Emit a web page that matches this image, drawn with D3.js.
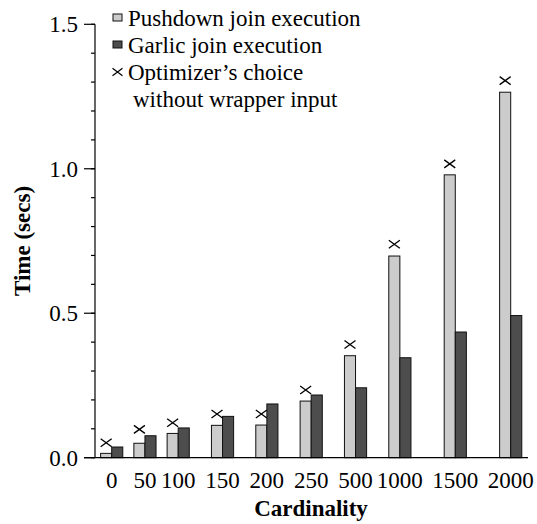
<!DOCTYPE html>
<html>
<head>
<meta charset="utf-8">
<script src="https://cdn.jsdelivr.net/npm/d3@7"></script>
<style>
  html, body { margin: 0; padding: 0; background: #fff; }
  svg { display: block; }
</style>
</head>
<body>
<svg id="chart" width="537" height="524"></svg>
<script>
// ---- data ----
const categories = ["0", "50", "100", "150", "200", "250", "500", "1000", "1500", "2000"];
const pushdown   = [0.015, 0.050, 0.084, 0.112, 0.113, 0.196, 0.353, 0.698, 0.979, 1.265];
const garlic     = [0.037, 0.076, 0.103, 0.143, 0.186, 0.217, 0.242, 0.346, 0.435, 0.492];
const optimizer  = [0.052, 0.098, 0.121, 0.151, 0.151, 0.234, 0.392, 0.739, 1.017, 1.305];
const yTicksMajor = [0, 0.5, 1.0, 1.5];
const legendLabels = ["Pushdown join execution", "Garlic join execution", "Optimizer\u2019s choice", "without wrapper input"];

// ---- layout ----
const FONT = "Liberation Serif";
const FS = 23;
const gapUnits = [0, 1, 1, 2, 2, 2, 2, 2, 3, 3]; // empty bar-widths before each group
const slotUnits = [];
gapUnits.reduce((acc, g, i) => { const v = acc + g + (i ? 2 : 0); slotUnits.push(v); return v; }, 0);

const colors = { push: "#cccccc", garlic: "#4d4d4d" };
const svg = d3.select("#chart");

const x = d3.scaleLinear().domain([0, slotUnits[slotUnits.length - 1]]).range([111.7, 510.7]);
const unit = x(1) - x(0);
const y = d3.scaleLinear().domain([0, 1.5]).range([457.7, 24.3]);

// y axis line
svg.append("line").attr("x1", 95).attr("x2", 95).attr("y1", y(1.5)).attr("y2", y(0))
  .attr("stroke", "#000").attr("stroke-width", 1.2);
// minor ticks
svg.append("g").selectAll("line").data(d3.range(0, 16).map(i => i / 10)).join("line")
  .attr("x1", 91).attr("x2", 95).attr("y1", d => y(d)).attr("y2", d => y(d))
  .attr("stroke", "#000").attr("stroke-width", 1.2);
// major ticks
svg.append("g").selectAll("line").data(yTicksMajor).join("line")
  .attr("x1", 84).attr("x2", 95).attr("y1", d => y(d)).attr("y2", d => y(d))
  .attr("stroke", "#000").attr("stroke-width", 1.2);
svg.append("g").selectAll("text").data(yTicksMajor).join("text")
  .attr("x", 78).attr("y", d => y(d)).attr("dy", "0.35em")
  .attr("text-anchor", "end").attr("font-family", FONT).attr("font-size", FS)
  .text(d => d.toFixed(1));

// bars
const groups = svg.append("g").selectAll("g").data(categories).join("g");
groups.append("rect")
  .attr("x", (d, i) => x(slotUnits[i]) - unit).attr("width", unit)
  .attr("y", (d, i) => y(pushdown[i])).attr("height", (d, i) => y(0) - y(pushdown[i]))
  .attr("fill", colors.push).attr("stroke", "#111").attr("stroke-width", 1);
groups.append("rect")
  .attr("x", (d, i) => x(slotUnits[i])).attr("width", unit)
  .attr("y", (d, i) => y(garlic[i])).attr("height", (d, i) => y(0) - y(garlic[i]))
  .attr("fill", colors.garlic).attr("stroke", "#111").attr("stroke-width", 1);

// x axis line
svg.append("line").attr("x1", 84).attr("x2", 528).attr("y1", y(0)).attr("y2", y(0))
  .attr("stroke", "#000").attr("stroke-width", 1.2);

// optimizer markers
const cross = (cx, cy, hw, hh) => `M${cx - hw},${cy - hh}L${cx + hw},${cy + hh}M${cx - hw},${cy + hh}L${cx + hw},${cy - hh}`;
groups.append("path")
  .attr("d", (d, i) => cross(x(slotUnits[i]) - unit / 2, y(optimizer[i]), 5.5, 4))
  .attr("stroke", "#000").attr("stroke-width", 1.3).attr("fill", "none");

// x tick labels
groups.append("text")
  .attr("x", (d, i) => x(slotUnits[i])).attr("y", 488)
  .attr("text-anchor", "middle").attr("font-family", FONT).attr("font-size", FS)
  .text(d => d);

// axis titles
svg.append("text").attr("x", 311).attr("y", 516).attr("text-anchor", "middle")
  .attr("font-family", FONT).attr("font-size", FS).attr("font-weight", "bold").text("Cardinality");
svg.append("text").attr("transform", "translate(30,241) rotate(-90)").attr("text-anchor", "middle")
  .attr("font-family", FONT).attr("font-size", FS).attr("font-weight", "bold").text("Time (secs)");

// legend
const lg = svg.append("g");
const rowY = [18, 45, 72, 99];
lg.append("rect").attr("x", 113).attr("y", rowY[0] - 4).attr("width", 9).attr("height", 7)
  .attr("fill", colors.push).attr("stroke", "#111").attr("stroke-width", 1);
lg.append("rect").attr("x", 113).attr("y", rowY[1] - 4).attr("width", 9).attr("height", 7)
  .attr("fill", colors.garlic).attr("stroke", "#111").attr("stroke-width", 1);
lg.append("path").attr("d", cross(117.5, rowY[2], 5, 3.8))
  .attr("stroke", "#000").attr("stroke-width", 1.2).attr("fill", "none");
lg.selectAll("text").data(legendLabels).join("text")
  .attr("x", (d, i) => i === 3 ? 133 : 128).attr("y", (d, i) => rowY[i]).attr("dy", "0.35em")
  .attr("font-family", FONT).attr("font-size", FS).text(d => d);
</script>
</body>
</html>
